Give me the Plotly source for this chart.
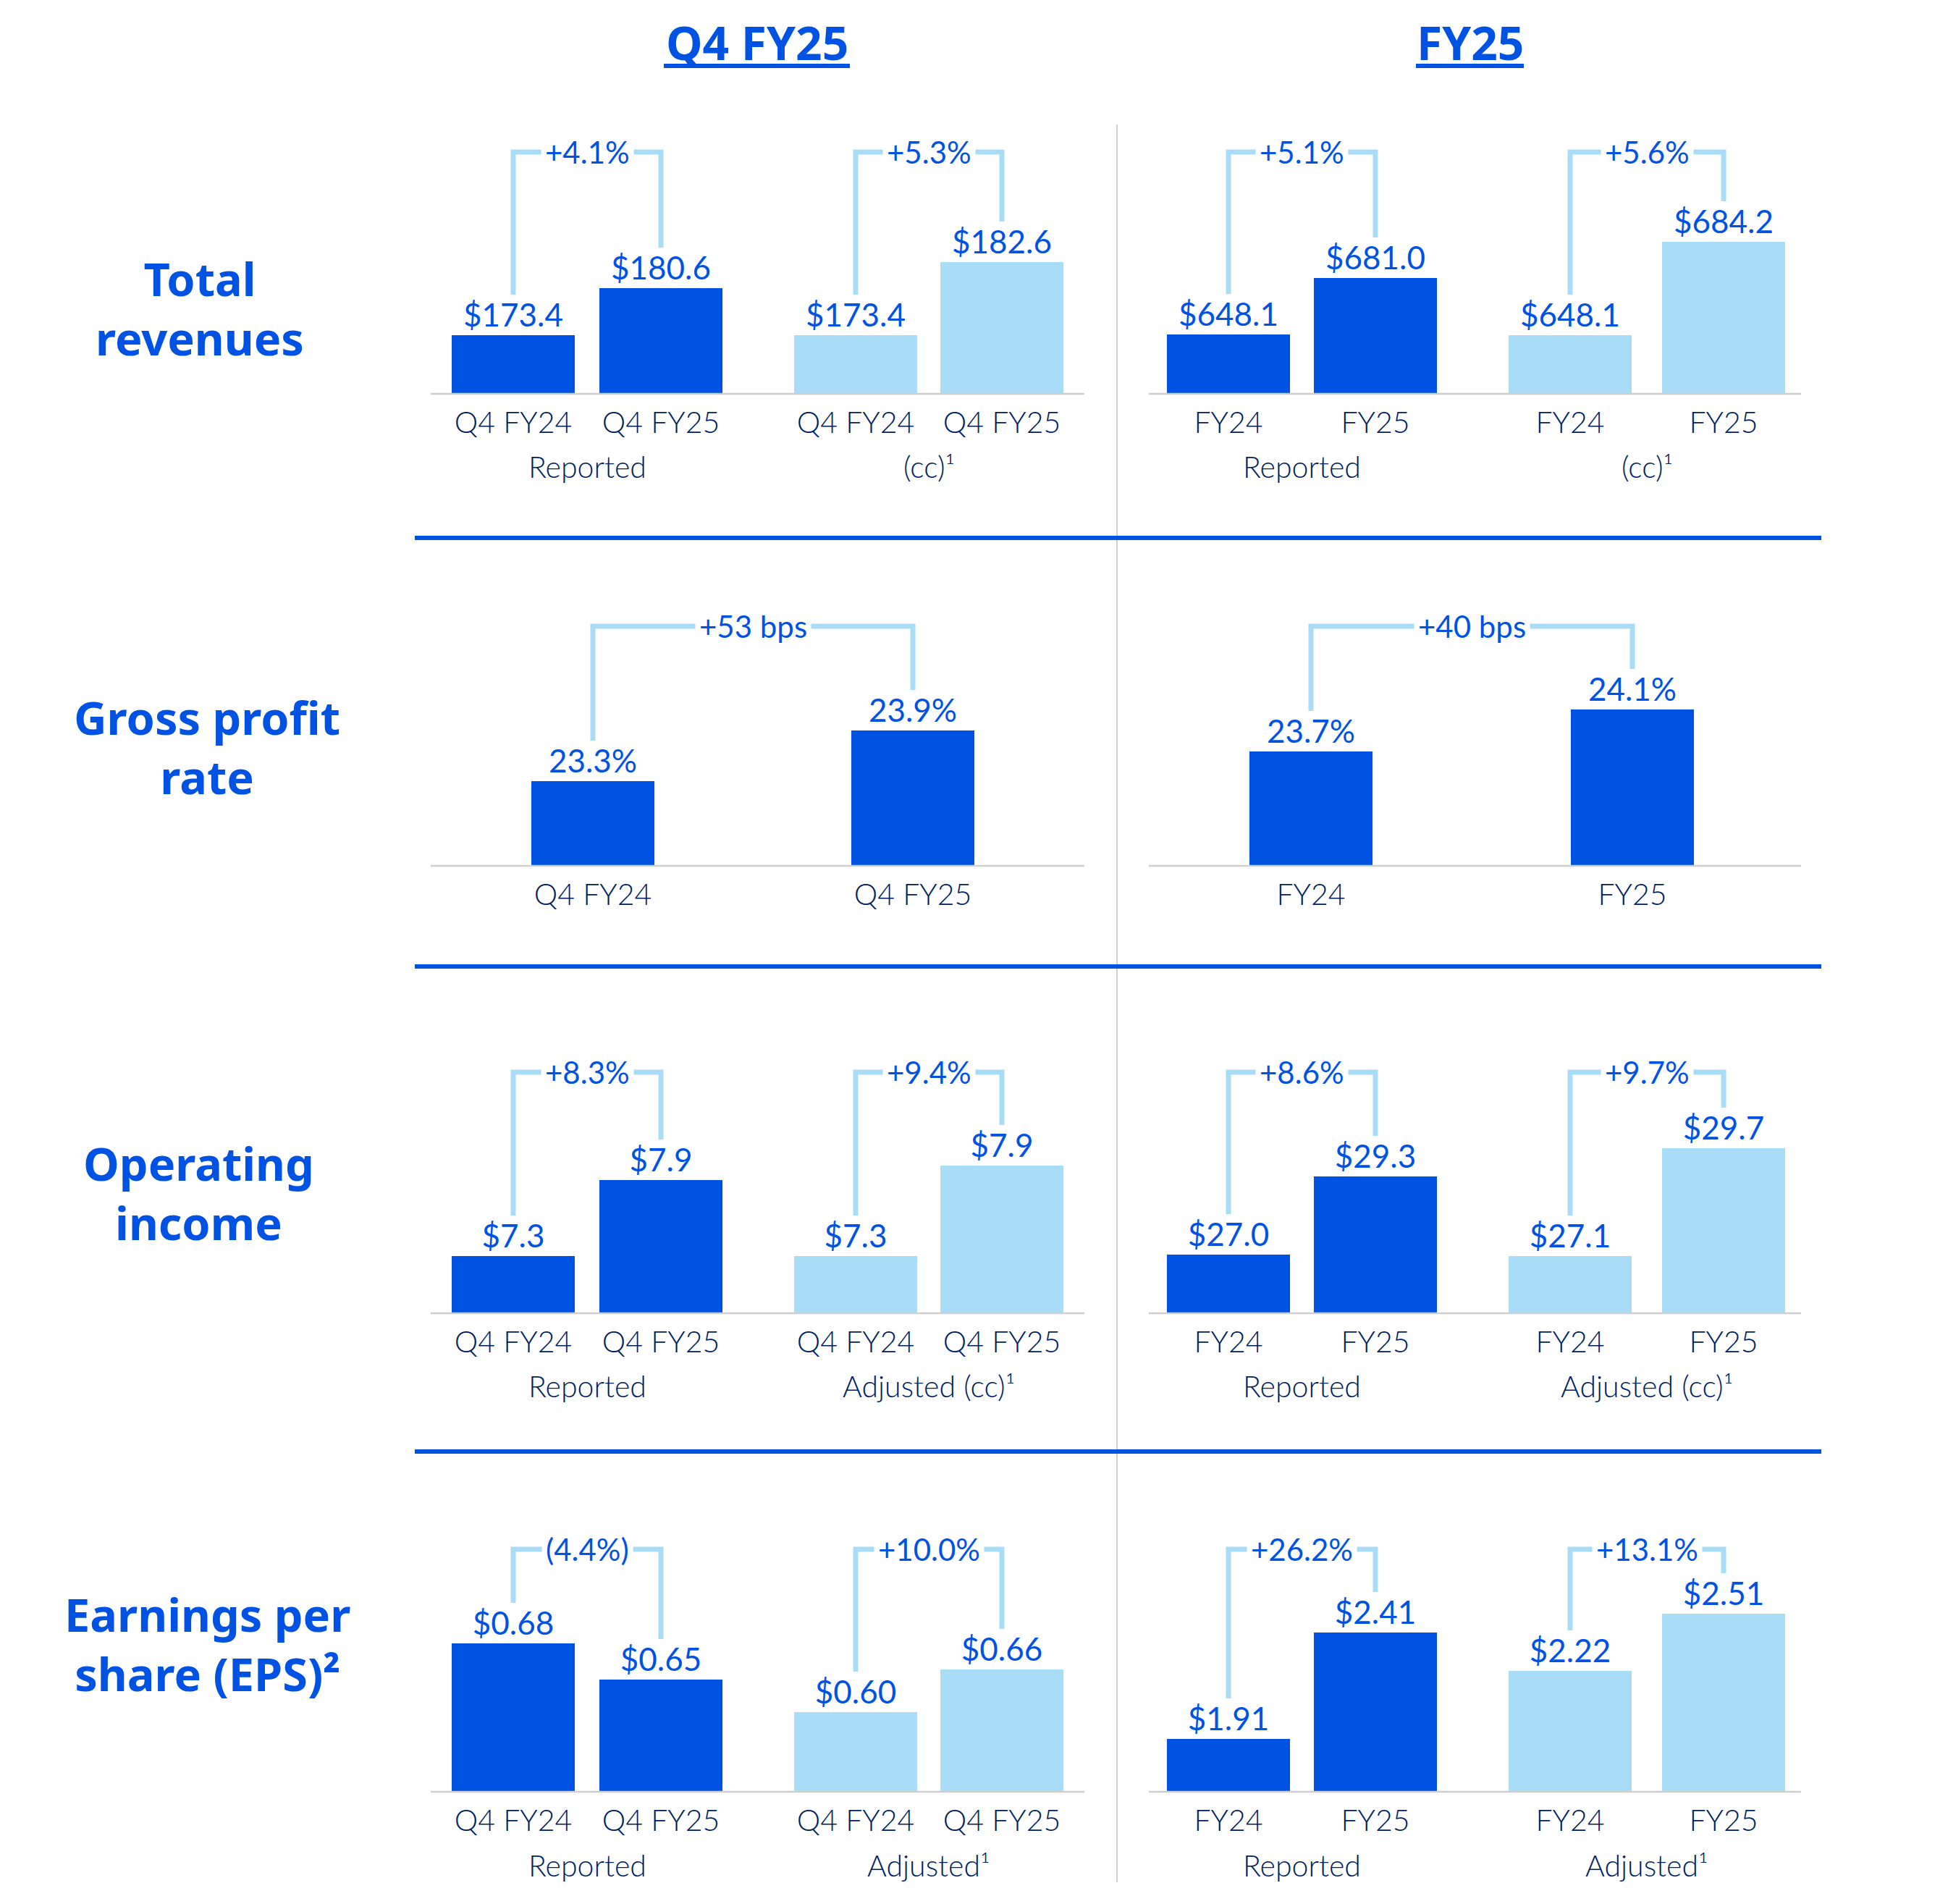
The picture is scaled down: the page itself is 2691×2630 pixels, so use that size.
import plotly.graph_objects as go

W, H = 2691, 2630
BLUE = "#0053E2"
SKY = "#A9DDF7"
NAVY = "#001E60"
GRAY = "#CFCFCF"

# ---------------- data ----------------
period_titles = ["Q4 FY25", "FY25"]
row_titles = ["Total<br>revenues", "Gross profit<br>rate", "Operating<br>income",
              "Earnings per<br>share (EPS)²"]
q_cats = ["Q4 FY24", "Q4 FY25"]
fy_cats = ["FY24", "FY25"]

rev_q_reported = [173.4, 180.6]
rev_q_cc = [173.4, 182.6]
rev_fy_reported = [648.1, 681.0]
rev_fy_cc = [648.1, 684.2]
rev_changes = ["+4.1%", "+5.3%", "+5.1%", "+5.6%"]
rev_groups = ["Reported", "(cc)¹", "Reported", "(cc)¹"]

gpr_q = [23.3, 23.9]
gpr_fy = [23.7, 24.1]
gpr_changes = ["+53 bps", "+40 bps"]

oi_q_reported = [7.3, 7.9]
oi_q_adj = [7.3, 7.9]
oi_fy_reported = [27.0, 29.3]
oi_fy_adj = [27.1, 29.7]
oi_changes = ["+8.3%", "+9.4%", "+8.6%", "+9.7%"]
oi_groups = ["Reported", "Adjusted (cc)¹", "Reported", "Adjusted (cc)¹"]

eps_q_reported = [0.68, 0.65]
eps_q_adj = [0.60, 0.66]
eps_fy_reported = [1.91, 2.41]
eps_fy_adj = [2.22, 2.51]
eps_changes = ["(4.4%)", "+10.0%", "+26.2%", "+13.1%"]
eps_groups = ["Reported", "Adjusted¹", "Reported", "Adjusted¹"]

# ---------------- layout (pixels) ----------------
rows_px = [dict(B=544, T=210), dict(B=1196, T=865), dict(B=1814, T=1481), dict(B=2475, T=2140)]
pair_centers = [(709, 913), (1182, 1384), (1697, 1900), (2169, 2381)]
single_centers = [(819, 1261), (1811, 2255)]
BAR_PX = 170
LEG_GAP = 56

def fmt_money1(v): return "${:.1f}".format(v)
def fmt_money2(v): return "${:.2f}".format(v)
def fmt_pct(v): return "{:.1f}%".format(v)

groups = [
    # row, centers, values, cats, color, change, group label, fmt, y-range
    (0, pair_centers[0], rev_q_reported, q_cats, BLUE, rev_changes[0], rev_groups[0], fmt_money1, [164.43, 208.06]),
    (0, pair_centers[1], rev_q_cc, q_cats, SKY, rev_changes[1], rev_groups[1], fmt_money1, [166.02, 201.90]),
    (0, pair_centers[2], rev_fy_reported, fy_cats, BLUE, rev_changes[2], rev_groups[2], fmt_money1, [613.52, 779.69]),
    (0, pair_centers[3], rev_fy_cc, fy_cats, SKY, rev_changes[3], rev_groups[3], fmt_money1, [625.43, 735.70]),
    (1, single_centers[0], gpr_q, q_cats, BLUE, gpr_changes[0], None, fmt_pct, [22.297, 25.647]),
    (1, single_centers[1], gpr_fy, fy_cats, BLUE, gpr_changes[1], None, fmt_pct, [22.61, 25.307]),
    (2, pair_centers[0], oi_q_reported, q_cats, BLUE, oi_changes[0], oi_groups[0], fmt_money1, [6.849, 9.095]),
    (2, pair_centers[1], oi_q_adj, q_cats, SKY, oi_changes[1], oi_groups[1], fmt_money1, [6.921, 8.808]),
    (2, pair_centers[2], oi_fy_reported, fy_cats, BLUE, oi_changes[2], oi_groups[2], fmt_money1, [25.275, 33.644]),
    (2, pair_centers[3], oi_fy_adj, fy_cats, SKY, oi_changes[3], oi_groups[3], fmt_money1, [25.722, 32.579]),
    (3, pair_centers[0], eps_q_reported, q_cats, BLUE, eps_changes[0], eps_groups[0], fmt_money2, [0.557, 0.794]),
    (3, pair_centers[1], eps_q_adj, q_cats, SKY, eps_changes[1], eps_groups[1], fmt_money2, [0.4881, 0.8898]),
    (3, pair_centers[2], eps_fy_reported, fy_cats, BLUE, eps_changes[2], eps_groups[2], fmt_money2, [1.662, 3.0055]),
    (3, pair_centers[3], eps_fy_adj, fy_cats, SKY, eps_changes[3], eps_groups[3], fmt_money2, [1.607, 3.057]),
]

def xp(px): return px / W
def yp(py): return 1 - py / H

fig = go.Figure()
layout = dict(width=W, height=H, margin=dict(l=0, r=0, t=0, b=0),
              paper_bgcolor="white", plot_bgcolor="rgba(0,0,0,0)", showlegend=False)
shapes = []
annotations = []

# separators
shapes.append(dict(type="line", xref="paper", yref="paper", x0=xp(1543), x1=xp(1543),
                   y0=yp(172), y1=yp(2600), line=dict(color=GRAY, width=2)))
for sy in [743, 1335, 2005]:
    shapes.append(dict(type="line", xref="paper", yref="paper", x0=xp(573), x1=xp(2516),
                       y0=yp(sy), y1=yp(sy), line=dict(color=BLUE, width=6)))
# baselines
for r in rows_px:
    for (a, b) in [(595, 1498), (1587, 2488)]:
        shapes.append(dict(type="line", xref="paper", yref="paper", x0=xp(a), x1=xp(b),
                           y0=yp(r["B"]), y1=yp(r["B"]), line=dict(color=GRAY, width=2.5)))

# period titles
for title, cx, (u0, u1) in zip(period_titles, [1046, 2031], [(917, 1174), (1956, 2105)]):
    annotations.append(dict(text="<b>" + title + "</b>", x=xp(cx), y=yp(58), xref="paper", yref="paper",
                            xanchor="center", yanchor="middle", showarrow=False,
                            font=dict(family="Noto Sans", size=64, color=BLUE)))
    shapes.append(dict(type="line", xref="paper", yref="paper", x0=xp(u0), x1=xp(u1),
                       y0=yp(91), y1=yp(91), line=dict(color=BLUE, width=6)))

# row titles
for t, (cx, cy) in zip(row_titles, [(276, 425), (286, 1031), (274, 1647), (286, 2270)]):
    annotations.append(dict(text="<b>" + t + "</b>", x=xp(cx), y=yp(cy), xref="paper", yref="paper",
                            xanchor="center", yanchor="middle", align="center", showarrow=False,
                            font=dict(family="Noto Sans", size=63, color=BLUE)))

for i, (row, (c0, c1), vals, cats, color, change, glabel, fmt, yr) in enumerate(groups, start=1):
    B, T = rows_px[row]["B"], rows_px[row]["T"]
    Dtop = T - 60
    s = c1 - c0
    xdom = [xp(c0 - s / 2), xp(c1 + s / 2)]
    ydom = [yp(B), yp(Dtop)]
    xa = "x" if i == 1 else "x%d" % i
    ya = "y" if i == 1 else "y%d" % i
    xkey = "xaxis" if i == 1 else "xaxis%d" % i
    ykey = "yaxis" if i == 1 else "yaxis%d" % i
    layout[xkey] = dict(domain=xdom, anchor=ya, range=[-0.5, 1.5], tickvals=[0, 1], ticktext=cats,
                        showgrid=False, zeroline=False, showline=False, ticks="",
                        ticklabelstandoff=12,
                        tickfont=dict(family="Lato", size=41, color=NAVY, weight=300))
    layout[ykey] = dict(domain=ydom, anchor=xa, range=yr, visible=False, showgrid=False, zeroline=False)

    fig.add_trace(go.Bar(x=[0, 1], y=vals, width=BAR_PX / s, marker=dict(color=color, line=dict(width=0)),
                         text=[fmt(v) for v in vals], textposition="outside", constraintext="none",
                         textfont=dict(family="Lato", size=44, color=BLUE),
                         xaxis=xa, yaxis=ya, hoverinfo="skip"))

    per_px = (yr[1] - yr[0]) / (B - Dtop)
    top_val = yr[0] + (B - T) * per_px
    l0 = vals[0] + LEG_GAP * per_px
    l1 = vals[1] + LEG_GAP * per_px
    shapes.append(dict(type="path", xref=xa, yref=ya,
                       path="M 0,%f L 0,%f L 1,%f L 1,%f" % (l0, top_val, top_val, l1),
                       line=dict(color=SKY, width=7)))
    annotations.append(dict(text=change, x=0.5, y=top_val, xref=xa, yref=ya, xanchor="center",
                            yanchor="middle", showarrow=False, bgcolor="white", borderpad=5,
                            font=dict(family="Lato", size=42, color=BLUE)))
    if glabel:
        annotations.append(dict(text=glabel, x=xp((c0 + c1) / 2), y=yp(B + 101), xref="paper", yref="paper",
                                xanchor="center", yanchor="middle", showarrow=False,
                                font=dict(family="Lato", size=41, color=NAVY, weight=300)))

layout["shapes"] = shapes
layout["annotations"] = annotations
fig.update_layout(**layout)
fig.write_html("out.html", config={"displayModeBar": False},
               post_script="document.body.style.margin='0';document.body.style.padding='0';")
